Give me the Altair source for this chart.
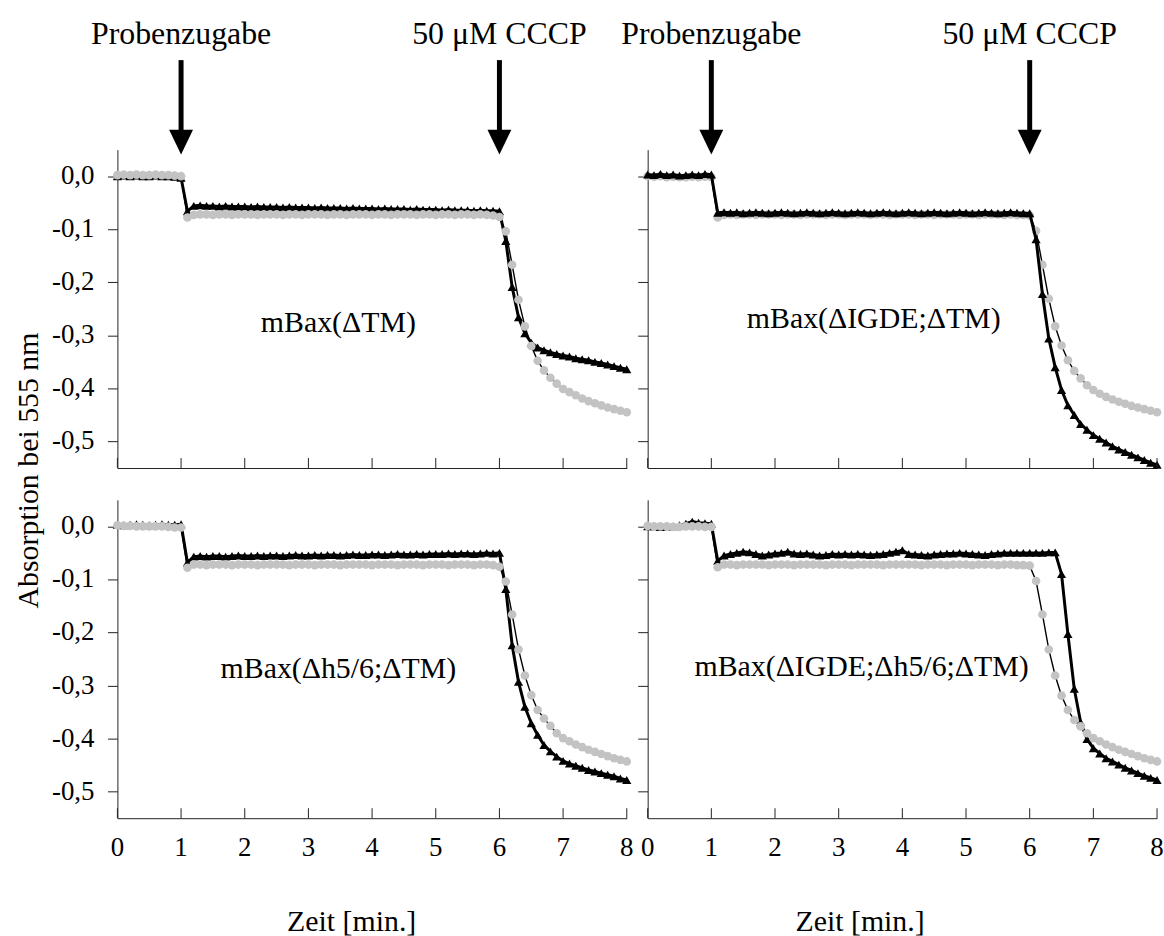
import altair as alt
import pandas as pd

# ---------------- data ----------------
t_min = [round(i * 0.1, 1) for i in range(81)]

p1_black = [0.000, 0.001, 0.000, 0.001, 0.000, 0.000, 0.001, 0.000, 0.000, -0.001, -0.003,
            -0.066, -0.056, -0.055, -0.056, -0.056, -0.057, -0.056, -0.057, -0.057, -0.057,
            -0.058, -0.057, -0.058, -0.058, -0.058, -0.059, -0.058, -0.059, -0.059, -0.059,
            -0.060, -0.059, -0.060, -0.060, -0.060, -0.061, -0.060, -0.061, -0.061, -0.061,
            -0.062, -0.061, -0.062, -0.062, -0.062, -0.063, -0.062, -0.063, -0.063, -0.063,
            -0.064, -0.063, -0.064, -0.064, -0.064, -0.065, -0.064, -0.065, -0.065, -0.066,
            -0.122, -0.209, -0.266, -0.296, -0.314, -0.323, -0.328, -0.332, -0.335, -0.338,
            -0.340, -0.343, -0.345, -0.347, -0.350, -0.352, -0.355, -0.358, -0.361, -0.364]
p1_gray = [0.002, 0.003, 0.002, 0.003, 0.002, 0.002, 0.003, 0.002, 0.002, 0.001, 0.000,
           -0.078, -0.073, -0.072, -0.072, -0.073, -0.072, -0.072, -0.073, -0.072, -0.072,
           -0.072, -0.073, -0.072, -0.072, -0.072, -0.073, -0.072, -0.072, -0.073, -0.072,
           -0.072, -0.072, -0.073, -0.072, -0.072, -0.073, -0.072, -0.072, -0.072, -0.073,
           -0.072, -0.072, -0.073, -0.072, -0.072, -0.072, -0.073, -0.072, -0.072, -0.073,
           -0.072, -0.072, -0.073, -0.072, -0.072, -0.073, -0.072, -0.073, -0.074, -0.077,
           -0.104, -0.167, -0.233, -0.283, -0.320, -0.348, -0.366, -0.380, -0.391, -0.401,
           -0.407, -0.413, -0.419, -0.424, -0.428, -0.432, -0.436, -0.439, -0.442, -0.445]

p2_black = [0.003, 0.002, 0.004, 0.002, 0.003, 0.001, 0.002, 0.003, 0.002, 0.004, 0.003,
            -0.069, -0.068, -0.069, -0.068, -0.070, -0.069, -0.068, -0.069, -0.070, -0.069,
            -0.068, -0.069, -0.070, -0.069, -0.068, -0.069, -0.070, -0.069, -0.068, -0.069,
            -0.070, -0.069, -0.068, -0.069, -0.070, -0.069, -0.068, -0.069, -0.070, -0.069,
            -0.068, -0.069, -0.070, -0.069, -0.068, -0.069, -0.070, -0.069, -0.068, -0.069,
            -0.070, -0.069, -0.068, -0.069, -0.070, -0.069, -0.068, -0.069, -0.070, -0.070,
            -0.119, -0.222, -0.306, -0.360, -0.403, -0.432, -0.450, -0.467, -0.478, -0.488,
            -0.495, -0.502, -0.509, -0.515, -0.520, -0.525, -0.530, -0.535, -0.540, -0.544]
p2_gray = [0.000, -0.001, 0.000, -0.002, -0.001, -0.002, -0.002, -0.001, -0.002, -0.001, -0.002,
           -0.078, -0.073, -0.072, -0.073, -0.072, -0.072, -0.073, -0.072, -0.072, -0.072,
           -0.073, -0.072, -0.072, -0.073, -0.072, -0.072, -0.072, -0.073, -0.072, -0.072,
           -0.073, -0.072, -0.072, -0.072, -0.073, -0.072, -0.072, -0.073, -0.072, -0.072,
           -0.072, -0.073, -0.072, -0.072, -0.073, -0.072, -0.072, -0.072, -0.073, -0.072,
           -0.072, -0.073, -0.072, -0.072, -0.072, -0.073, -0.072, -0.073, -0.073, -0.074,
           -0.103, -0.167, -0.231, -0.283, -0.319, -0.347, -0.367, -0.381, -0.394, -0.403,
           -0.410, -0.416, -0.421, -0.425, -0.429, -0.433, -0.436, -0.439, -0.442, -0.445]

p3_black = [0.003, 0.002, 0.003, 0.004, 0.003, 0.002, 0.003, 0.004, 0.003, 0.003, 0.004,
            -0.068, -0.057, -0.056, -0.057, -0.056, -0.056, -0.057, -0.056, -0.055, -0.056,
            -0.056, -0.055, -0.056, -0.055, -0.055, -0.056, -0.055, -0.054, -0.055, -0.055,
            -0.054, -0.055, -0.054, -0.054, -0.055, -0.054, -0.053, -0.054, -0.054, -0.053,
            -0.053, -0.054, -0.053, -0.052, -0.053, -0.053, -0.052, -0.053, -0.052, -0.052,
            -0.052, -0.051, -0.052, -0.051, -0.051, -0.052, -0.051, -0.050, -0.051, -0.050,
            -0.118, -0.224, -0.293, -0.340, -0.371, -0.393, -0.412, -0.424, -0.434, -0.442,
            -0.447, -0.451, -0.455, -0.459, -0.462, -0.465, -0.468, -0.471, -0.475, -0.478]
p3_gray = [0.002, 0.001, 0.001, 0.000, 0.000, 0.000, 0.000, 0.000, -0.001, -0.002, -0.002,
           -0.078, -0.072, -0.072, -0.073, -0.072, -0.072, -0.072, -0.073, -0.072, -0.072,
           -0.072, -0.073, -0.072, -0.072, -0.072, -0.072, -0.073, -0.072, -0.072, -0.072,
           -0.073, -0.072, -0.072, -0.072, -0.073, -0.072, -0.072, -0.072, -0.072, -0.073,
           -0.072, -0.072, -0.072, -0.073, -0.072, -0.072, -0.072, -0.073, -0.072, -0.072,
           -0.072, -0.073, -0.072, -0.072, -0.072, -0.073, -0.072, -0.072, -0.073, -0.076,
           -0.104, -0.166, -0.232, -0.281, -0.318, -0.346, -0.362, -0.376, -0.390, -0.399,
           -0.405, -0.411, -0.416, -0.421, -0.425, -0.429, -0.433, -0.437, -0.440, -0.443]

p4_black = [0.000, 0.000, -0.001, 0.000, 0.000, 0.002, 0.005, 0.009, 0.007, 0.006, 0.005,
            -0.065, -0.055, -0.052, -0.050, -0.048, -0.049, -0.052, -0.055, -0.053, -0.051,
            -0.050, -0.048, -0.051, -0.052, -0.051, -0.053, -0.055, -0.054, -0.052, -0.053,
            -0.052, -0.053, -0.052, -0.053, -0.054, -0.053, -0.052, -0.050, -0.048, -0.045,
            -0.052, -0.053, -0.054, -0.055, -0.053, -0.052, -0.051, -0.051, -0.050, -0.051,
            -0.052, -0.053, -0.054, -0.052, -0.051, -0.050, -0.050, -0.050, -0.050, -0.050,
            -0.050, -0.050, -0.049, -0.049, -0.090, -0.203, -0.306, -0.369, -0.401, -0.418,
            -0.428, -0.437, -0.443, -0.449, -0.455, -0.460, -0.465, -0.470, -0.474, -0.478]
p4_gray = [0.001, 0.000, 0.000, 0.000, -0.001, -0.001, 0.000, 0.000, 0.000, -0.001, -0.001,
           -0.077, -0.072, -0.072, -0.073, -0.072, -0.072, -0.072, -0.072, -0.073, -0.072,
           -0.072, -0.072, -0.073, -0.072, -0.072, -0.072, -0.072, -0.073, -0.072, -0.072,
           -0.072, -0.073, -0.072, -0.072, -0.072, -0.072, -0.073, -0.072, -0.072, -0.072,
           -0.072, -0.072, -0.073, -0.072, -0.072, -0.072, -0.073, -0.072, -0.072, -0.072,
           -0.073, -0.072, -0.072, -0.072, -0.073, -0.072, -0.072, -0.073, -0.073, -0.074,
           -0.103, -0.166, -0.232, -0.281, -0.319, -0.346, -0.365, -0.377, -0.390, -0.399,
           -0.405, -0.411, -0.416, -0.421, -0.425, -0.429, -0.433, -0.437, -0.440, -0.443]

panel_labels = ["mBax(\u0394TM)", "mBax(\u0394IGDE;\u0394TM)",
                "mBax(\u0394h5/6;\u0394TM)", "mBax(\u0394IGDE;\u0394h5/6;\u0394TM)"]
event_t = [1, 6]
event_labels = ["Probenzugabe", "50 \u03bcM CCCP"]
x_ticks = [0, 1, 2, 3, 4, 5, 6, 7, 8]
x_tick_labels = ["0", "1", "2", "3", "4", "5", "6", "7", "8"]
y_ticks = [0.0, -0.1, -0.2, -0.3, -0.4, -0.5]
y_tick_labels = ["0,0", "-0,1", "-0,2", "-0,3", "-0,4", "-0,5"]

# ---------------- styling ----------------
FONT = "Liberation Serif"
W, H = 512, 320
GRAY = "#c3c3c3"
AXIS_COLOR = "#222222"
LABEL_SIZE = 27
xs = alt.Scale(domain=[0, 8], nice=False, zero=False)
ys = alt.Scale(domain=[-0.55, 0.05], nice=False, zero=False)


def make_panel(black, gray, label, label_pos, top, left, title_x=0, black_on_top=False):
    if top:
        x_axis = alt.Axis(values=x_ticks, ticks=False, labels=False, title=None, grid=False,
                          domainColor=AXIS_COLOR, domainWidth=1)
    else:
        x_axis = alt.Axis(values=x_ticks, ticks=False, labels=False, grid=False,
                          domainColor=AXIS_COLOR, domainWidth=1,
                          title="Zeit [min.]", titleFont=FONT, titleFontSize=30,
                          titleFontWeight="normal", titleColor="black",
                          titleX=title_x, titleY=113, titleAlign="center",
                          titleBaseline="alphabetic", titleAngle=0)
    if left and top:
        y_axis = alt.Axis(values=y_ticks, grid=False, tickSize=10, tickColor=AXIS_COLOR,
                          domainColor=AXIS_COLOR, domainWidth=1, labels=False,
                          title="Absorption bei 555 nm", titleFont=FONT, titleFontSize=30,
                          titleFontWeight="normal", titleColor="black",
                          titleAngle=270, titleX=-80, titleY=322, titleAlign="center",
                          titleBaseline="alphabetic")
    else:
        y_axis = alt.Axis(values=y_ticks, grid=False, tickSize=10, tickColor=AXIS_COLOR,
                          domainColor=AXIS_COLOR, domainWidth=1, labels=False, title=None)

    X = alt.X("t:Q", scale=xs, axis=x_axis)

    def Y(field):
        return alt.Y(field, scale=ys, axis=y_axis)

    df = pd.DataFrame({"t": t_min, "black": black, "gray": gray})
    base = alt.Chart(df)
    black_line = base.mark_line(color="black", strokeWidth=3).encode(x=X, y=Y("black:Q"))
    black_pts = base.mark_point(shape="triangle-up", filled=True, color="black",
                                size=85, opacity=1).encode(x=X, y=Y("black:Q"))
    gray_line = base.mark_line(color="black", strokeWidth=1.4).encode(x=X, y=Y("gray:Q"))
    gray_pts = base.mark_circle(color=GRAY, size=75, opacity=1).encode(x=X, y=Y("gray:Q"))

    if black_on_top:
        layers = [gray_line, gray_pts, black_line, black_pts]
    else:
        layers = [black_line, black_pts, gray_line, gray_pts]

    tick_rules = alt.Chart(pd.DataFrame({"t": x_ticks})).mark_rule(
        color=AXIS_COLOR, strokeWidth=1).encode(x=X, y=alt.value(H), y2=alt.value(H - 10))
    layers.append(tick_rules)

    if left:
        ylab = alt.Chart(pd.DataFrame({"v": y_ticks, "label": y_tick_labels})).mark_text(
            font=FONT, fontSize=LABEL_SIZE, color="black", align="right", baseline="middle"
        ).encode(x=alt.value(-23), y=Y("v:Q"), text="label:N")
        layers.append(ylab)
    if not top:
        xlab = alt.Chart(pd.DataFrame({"t": x_ticks, "label": x_tick_labels})).mark_text(
            font=FONT, fontSize=LABEL_SIZE, color="black", align="center",
            baseline="alphabetic").encode(x=X, y=alt.value(H + 38), text="label:N")
        layers.append(xlab)

    lab_df = pd.DataFrame({"t": [label_pos[0]], "v": [label_pos[1]], "label": [label]})
    lab = alt.Chart(lab_df).mark_text(font=FONT, fontSize=30, color="black",
                                      align="center", baseline="middle").encode(
        x=X, y=Y("v:Q"), text="label:N")
    layers.append(lab)

    if top:
        ev = pd.DataFrame({"t": event_t, "label": event_labels})
        shaft = alt.Chart(ev).mark_rule(color="black", strokeWidth=5).encode(
            x=X, y=alt.value(-90), y2=alt.value(-18))
        head = alt.Chart(ev).mark_point(shape="M-1,-1.04L1,-1.04L0,1.04Z", filled=True,
                                        color="black", size=576, opacity=1,
                                        strokeWidth=0).encode(x=X, y=alt.value(-7.5))
        txt = alt.Chart(ev).mark_text(font=FONT, fontSize=32, color="black",
                                      align="center", baseline="alphabetic").encode(
            x=X, y=alt.value(-106), text="label:N")
        layers += [shaft, head, txt]

    return alt.layer(*layers).properties(width=W, height=H)


tl = make_panel(p1_black, p1_gray, panel_labels[0], (3.47, -0.276), top=True, left=True)
tr = make_panel(p2_black, p2_gray, panel_labels[1], (3.55, -0.27), top=True, left=False,
                black_on_top=True)
bl = make_panel(p3_black, p3_gray, panel_labels[2], (3.47, -0.268), top=False, left=True,
                title_x=235)
br = make_panel(p4_black, p4_gray, panel_labels[3], (3.36, -0.265), top=False, left=False,
                title_x=213)

chart = alt.concat(tl, tr, bl, br, columns=2, spacing={"row": 32, "column": 21},
                   bounds="flush", background="white",
                   padding={"left": 14, "top": 16, "right": 0, "bottom": 0}
                   ).configure_view(strokeWidth=0)

chart.save("out.html", embed_options={"renderer": "svg", "actions": False})
